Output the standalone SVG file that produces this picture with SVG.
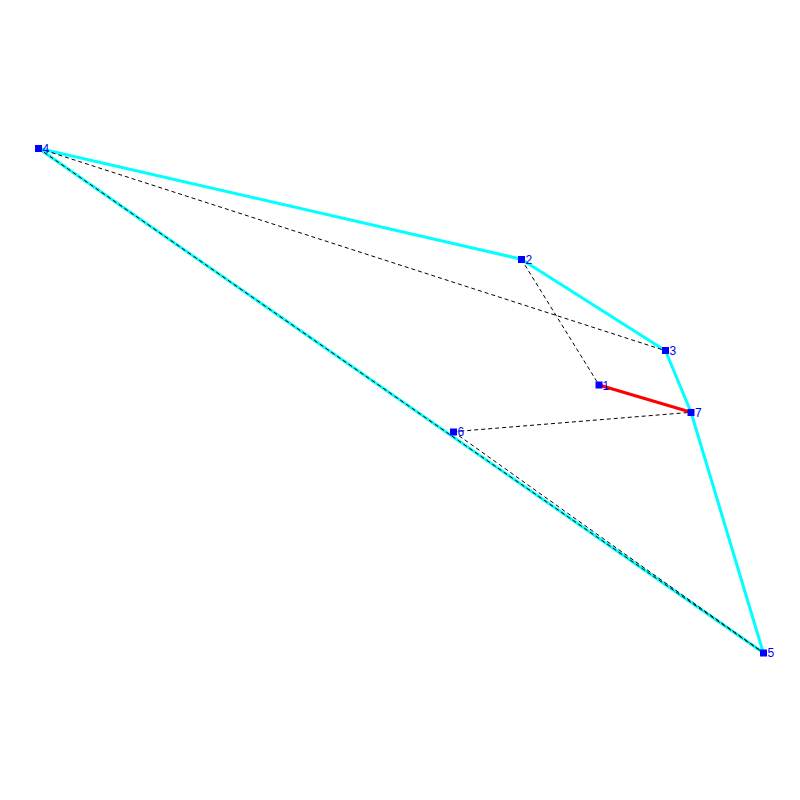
<svg xmlns="http://www.w3.org/2000/svg" width="800" height="800" viewBox="0 0 800 800">
<style>
.hull{stroke:#00ffff;stroke-width:3;fill:none}
.dash{stroke:#000;stroke-width:1;stroke-dasharray:4,3;fill:none}
.red{stroke:#ff0000;stroke-width:3;fill:none}
.node rect{fill:#0000ff}
.node text{fill:#0000ff;font-family:"Liberation Sans",Arial,sans-serif;font-size:12px}
</style>
<rect width="800" height="800" fill="#fff"/>
<g id="connectors">
<line class="hull" x1="38.3" y1="148.3" x2="521.3" y2="259.2"/>
<line class="hull" x1="521.3" y1="259.2" x2="665.5" y2="350.7"/>
<line class="hull" x1="665.5" y1="350.7" x2="691" y2="412.3"/>
<line class="hull" x1="691" y1="412.3" x2="763.3" y2="652.7"/>
<line class="hull" x1="38.3" y1="148.3" x2="763.3" y2="652.7"/>
<line class="dash" x1="38.3" y1="148.3" x2="665.5" y2="350.7"/>
<line class="dash" x1="38.3" y1="148.3" x2="763.3" y2="652.7"/>
<line class="dash" x1="521.3" y1="259.2" x2="599" y2="385"/>
<line class="dash" x1="453.3" y1="431.7" x2="691" y2="412.3"/>
<line class="dash" x1="453.3" y1="431.7" x2="763.3" y2="652.7"/>
<line class="red" x1="599" y1="385" x2="691" y2="412.3"/>
</g>
<g id="n4" class="node"><rect x="35" y="145" width="7" height="7"/><text x="42.5" y="152.5">4</text></g>
<g id="n2" class="node"><rect x="518" y="256" width="7" height="7"/><text x="525.5" y="263.5">2</text></g>
<g id="n3" class="node"><rect x="662" y="347" width="7" height="7"/><text x="669.5" y="354.5">3</text></g>
<g id="n1" class="node"><rect x="595.5" y="381.5" width="7" height="7"/><text x="602.5" y="389.5">1</text></g>
<g id="n7" class="node"><rect x="687.5" y="409" width="7" height="7"/><text x="695" y="416.5">7</text></g>
<g id="n6" class="node"><rect x="450" y="428.5" width="7" height="7"/><text x="457.5" y="436">6</text></g>
<g id="n5" class="node"><rect x="760" y="649.5" width="7" height="7"/><text x="767.5" y="657">5</text></g>
</svg>
